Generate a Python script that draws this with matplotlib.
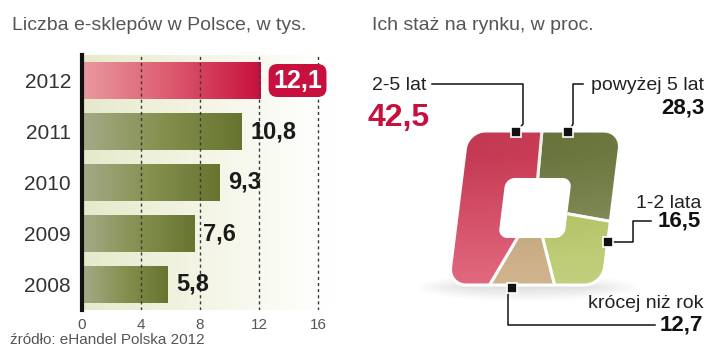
import numpy as np
import matplotlib
matplotlib.use("Agg")
import matplotlib.pyplot as plt
from matplotlib.path import Path
from matplotlib.patches import PathPatch, Ellipse
from matplotlib.transforms import Affine2D
from matplotlib.colors import LinearSegmentedColormap

# ---------------- data ----------------
years = ["2012", "2011", "2010", "2009", "2008"]
shops = [12.1, 10.8, 9.3, 7.6, 5.8]
x_ticks = [0, 4, 8, 12, 16]

age_labels = ["2-5 lat", "powyżej 5 lat", "1-2 lata", "krócej niż rok"]
age_values = [42.5, 28.3, 16.5, 12.7]
age_order = [1, 2, 3, 0]  # drawing order clockwise from top: powyżej 5, 1-2, <1, 2-5

title_left = "Liczba e-sklepów w Polsce, w tys."
title_right = "Ich staż na rynku, w proc."
source = "źródło: eHandel Polska 2012"

def fmt(v):
    return f"{v:.1f}".replace(".", ",")

plt.rcParams['font.family'] = ['Liberation Sans', 'DejaVu Sans']

W, H = 720, 361
fig = plt.figure(figsize=(7.2, 3.61), dpi=100)
fig.patch.set_facecolor("white")

def fx(px): return px / W
def fy(py): return 1 - py / H

CRIMSON = "#c8103e"

# ---------------- left bar chart ----------------
ax = fig.add_axes([fx(82), fy(310), fx(330) - fx(82), (310 - 55) / H])
ax.set_xlim(0, 16.8)
ax.set_ylim(4.5, -0.5)

bg = LinearSegmentedColormap.from_list("bg", ["#e6eacb", "#f4f5e6", "#ffffff"])
ax.imshow(np.linspace(0, 1, 256)[None, :], cmap=bg, aspect="auto",
          extent=[0, 1, 0, 1], transform=ax.transAxes, zorder=0)

ypos = np.arange(len(years))
bars = ax.barh(ypos, shops, height=0.72, color="none", zorder=2)
red_cm = LinearSegmentedColormap.from_list("r", ["#e99aa0", "#dc5a6e", "#c8103e"])
olive_cm = LinearSegmentedColormap.from_list("o", ["#a5aa88", "#85904f", "#67742f"])
for i, b in enumerate(bars):
    x0, y0, w, h = b.get_x(), b.get_y(), b.get_width(), b.get_height()
    im = ax.imshow(np.linspace(0, 1, 256)[None, :], cmap=red_cm if i == 0 else olive_cm,
                   aspect="auto", extent=[x0, x0 + w, y0 + h, y0], zorder=2)
    im.set_clip_path(b)

for xv in x_ticks[1:]:
    ax.axvline(xv, color="#3a3a3a", lw=1.0, ls=(0, (2.2, 2.2)), zorder=3)

for i, v in enumerate(shops):
    if i == 0:
        ax.annotate(fmt(v), (v, ypos[i]), xytext=(9, 0), textcoords="offset points",
                    ha="left", va="center", fontsize=18, fontweight="bold", color="white",
                    bbox=dict(boxstyle="round,pad=0.18,rounding_size=0.35", fc=CRIMSON, ec="none"),
                    zorder=5)
    else:
        ax.annotate(fmt(v), (v, ypos[i]), xytext=(6.5, 0), textcoords="offset points",
                    ha="left", va="center", fontsize=17, fontweight="bold", color="#1a1a1a",
                    zorder=5)

ax.set_yticks(ypos)
ax.set_yticklabels(years, fontsize=15, color="#333333")
ax.set_xticks(x_ticks)
ax.set_xticklabels([str(t) for t in x_ticks], fontsize=11, color="#555555")
ax.tick_params(axis="both", length=0)
ax.tick_params(axis="y", pad=8)
ax.tick_params(axis="x", pad=6)
for s in ["top", "right", "bottom"]:
    ax.spines[s].set_visible(False)
ax.spines["left"].set_linewidth(3)
ax.spines["left"].set_color("#111111")
ax.spines["left"].set_zorder(6)

fig.text(fx(12), fy(25), title_left, fontsize=14, color="#555555", ha="left", va="center")
fig.text(fx(10), fy(340), source, fontsize=11, color="#555555", ha="left", va="center")
fig.text(fx(372), fy(25), title_right, fontsize=14, color="#555555", ha="left", va="center")

# ---------------- right "square donut" ----------------
U = 77.0
cx, cy = 535, 208
pax = fig.add_axes([fx(cx - 1.5 * U), fy(cy + 1.4 * U), 3.0 * U / W, 2.8 * U / H])

def rounded_rect(hw, hh, r, n=12, reverse=False):
    pts = []
    corners = [(hw - r, hh - r, 0), (-hw + r, hh - r, 90), (-hw + r, -hh + r, 180), (hw - r, -hh + r, 270)]
    for (ccx, ccy, a0) in corners:
        t = np.radians(np.linspace(a0, a0 + 90, n))
        pts.extend(zip(ccx + r * np.cos(t), ccy + r * np.sin(t)))
    pts = np.array(pts)
    if reverse:
        pts = pts[::-1]
    return pts

def closed(pts):
    return (np.vstack([pts, pts[:1]]),
            [Path.MOVETO] + [Path.LINETO] * (len(pts) - 1) + [Path.CLOSEPOLY])

outer = rounded_rect(1.0, 1.0, 0.23)
inner = rounded_rect(0.43, 0.39, 0.12, reverse=True)
vo, co = closed(outer)
vi, ci = closed(inner)
shape_path = Path(np.vstack([vo, vi]), co + ci)

shear = Affine2D().skew_deg(7.1, 0)
tr = shear + pax.transData

# soft shadow under the shape
for k in range(10):
    e = Ellipse((-0.1, -1.03), 1.6 + 0.14 * k, 0.04 + 0.035 * k, color="#000000",
                alpha=0.012, lw=0, zorder=0)
    pax.add_patch(e)

palette = {"2-5 lat": "#d8405c", "powyżej 5 lat": "#717d42",
           "1-2 lata": "#b1c25a", "krócej niż rok": "#c2a070"}
vals = [age_values[i] for i in age_order]
cols = [palette[age_labels[i]] for i in age_order]
wedges, _ = pax.pie(vals, colors=cols, startangle=92, counterclock=False, radius=2.5,
                    wedgeprops=dict(edgecolor="white", linewidth=2.2))
pax.set_xlim(-1.5, 1.5)
pax.set_ylim(-1.4, 1.4)
pax.set_aspect("auto")
pax.axis("off")

for w in wedges:
    w.set_transform(tr)
    w.set_clip_on(True)
    w.set_clip_path(shape_path, tr)
    w.set_zorder(2)

# shading overlay: darker towards top-left, lighter towards bottom
yy, xx = np.mgrid[0:1:128j, 0:1:128j]   # row 0 = top
shade = np.zeros((128, 128, 4))
shade[..., :3] = 1.0
shade[..., 3] = np.clip(0.30 * yy - 0.06, 0, 1)
im = pax.imshow(shade, extent=[-1.3, 1.3, -1.2, 1.2], origin="upper", aspect="auto",
                zorder=2.5, interpolation="bilinear")
im.set_clip_path(shape_path, tr)
dark = np.zeros((128, 128, 4))
dark[..., 3] = np.clip(0.16 * (1 - yy) * (1 - 0.6 * xx) - 0.02, 0, 1)
im2 = pax.imshow(dark, extent=[-1.3, 1.3, -1.2, 1.2], origin="upper", aspect="auto",
                 zorder=2.4, interpolation="bilinear")
im2.set_clip_path(shape_path, tr)

outline = PathPatch(Path(vo, co), transform=tr, fc="none", ec="white", lw=2.2, zorder=3)
pax.add_patch(outline)
pax.set_xlim(-1.5, 1.5)
pax.set_ylim(-1.4, 1.4)

# ---------------- overlay annotations (pixel coords) ----------------
ox = fig.add_axes([0, 0, 1, 1], facecolor="none")
ox.set_xlim(0, W)
ox.set_ylim(H, 0)
ox.axis("off")

lk = dict(color="#111111", lw=1.1, zorder=5)
def leader(xs, ys, mx, my):
    ox.plot(xs, ys, **lk)
    ox.plot([mx], [my], marker="s", ms=6.5, mfc="#111111", mec="white", mew=1.2, zorder=6)

ox.text(372, 86, age_labels[0], fontsize=14, color="#222222", ha="left", va="center")
ox.text(367, 118, fmt(age_values[0]), fontsize=23, fontweight="bold", color=CRIMSON,
        ha="left", va="center")
leader([432, 523, 523, 517], [84, 84, 124, 131], 516, 132)

ox.text(704, 86, age_labels[1], fontsize=14, color="#222222", ha="right", va="center")
ox.text(704, 108, fmt(age_values[1]), fontsize=16, fontweight="bold", color="#111111",
        ha="right", va="center")
leader([583, 573, 573, 569], [84, 84, 124, 131], 568, 132)

ox.text(701, 203, age_labels[2], fontsize=14, color="#222222", ha="right", va="center")
ox.text(701, 221, fmt(age_values[2]), fontsize=16, fontweight="bold", color="#111111",
        ha="right", va="center")
leader([651, 633, 633, 610], [221, 221, 242, 242], 608, 242)

ox.text(703, 303, age_labels[3], fontsize=14, color="#222222", ha="right", va="center")
ox.text(703, 325, fmt(age_values[3]), fontsize=16, fontweight="bold", color="#111111",
        ha="right", va="center")
leader([655, 508, 508, 511], [325, 325, 294, 289], 512, 288)

fig.savefig("out.png", dpi=100, facecolor="white")
